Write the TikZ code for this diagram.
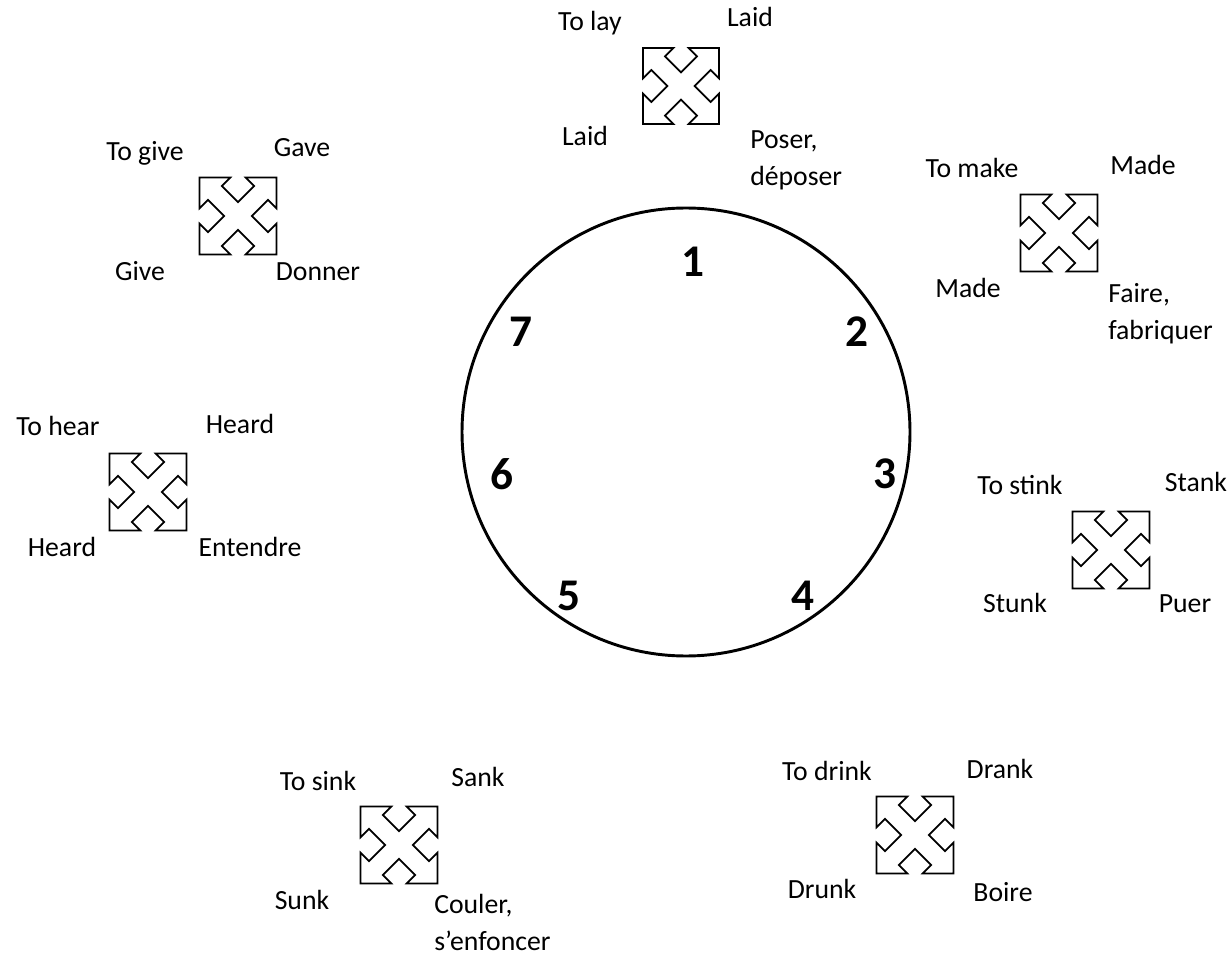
\documentclass[tikz,border=0pt]{standalone}
\usepackage{fontspec}
\setmainfont{Carlito}
\newcommand{\verbfont}{\fontsize{20.8}{27.75}\selectfont}
\newcommand{\hourfont}{\fontsize{34}{40}\selectfont\bfseries}
\tikzset{
  verb/.style={font=\verbfont, inner sep=0pt, anchor=base},
  gloss/.style={font=\verbfont, inner sep=0pt, anchor=north west, align=left},
  hour/.style={font=\hourfont, inner sep=0pt},
  clockface/.style={line width=2.2pt},
  arrowicon/.style={line width=1.3pt, line join=miter},
  crossarrows/.pic={
    \draw[arrowicon] (-.5,.5) -- (-.1,.5) -- (-.21,.39) -- (0,.18) -- (.21,.39) -- (.1,.5)
      -- (.5,.5) -- (.5,.1) -- (.39,.21) -- (.18,0) -- (.39,-.21) -- (.5,-.1)
      -- (.5,-.5) -- (.1,-.5) -- (.21,-.39) -- (0,-.18) -- (-.21,-.39) -- (-.1,-.5)
      -- (-.5,-.5) -- (-.5,-.1) -- (-.39,-.21) -- (-.18,0) -- (-.39,.21) -- (-.5,.1) -- cycle;
  }
}
\begin{document}
\begin{tikzpicture}[x=0.75pt,y=-0.75pt]
\useasboundingbox (0,0) rectangle (1231,969);
%\draw[help lines] (0,0) grid[step=100] (1231,969);
% clock
\coordinate (clock) at (686,432);
\draw[clockface] (clock) circle[radius=224];
\node[hour] (h1) at (693,262) {1};
\node[hour] (h2) at (857,332) {2};
\node[hour] (h3) at (885,474) {3};
\node[hour] (h4) at (803,596) {4};
\node[hour] (h5) at (569,596) {5};
\node[hour] (h6) at (502,474) {6};
\node[hour] (h7) at (521,332) {7};
% 1 to lay
\coordinate (lay) at (681,86);
\pic[scale=76] at (lay) {crossarrows};
\node[verb] (lay-inf) at (590,31) {To lay};
\node[verb] (lay-pret) at (750,27) {Laid};
\node[verb] (lay-pp) at (585,146) {Laid};
\node[gloss] (lay-fr) at (750,130) {Poser,\\déposer};
% 2 to make
\coordinate (make) at (1059,233);
\pic[scale=77] at (make) {crossarrows};
\node[verb] (make-inf) at (972,178) {To make};
\node[verb] (make-pret) at (1143,175) {Made};
\node[verb] (make-pp) at (968,298) {Made};
\node[gloss] (make-fr) at (1108,283) {Faire,\\fabriquer};
% 3 to stink
\coordinate (stink) at (1111,550);
\pic[scale=77] at (stink) {crossarrows};
\node[verb] (stink-inf) at (1020,494) {To stink};
\node[verb] (stink-pret) at (1196,492) {Stank};
\node[verb] (stink-pp) at (1015,612) {Stunk};
\node[verb] (stink-fr) at (1185,612) {Puer};
% 4 to drink
\coordinate (drink) at (915,835);
\pic[scale=77] at (drink) {crossarrows};
\node[verb] (drink-inf) at (827,780) {To drink};
\node[verb] (drink-pret) at (1000,778) {Drank};
\node[verb] (drink-pp) at (822,898) {Drunk};
\node[verb] (drink-fr) at (1003,901) {Boire};
% 5 to sink
\coordinate (sink) at (399,845);
\pic[scale=77] at (sink) {crossarrows};
\node[verb] (sink-inf) at (318,790) {To sink};
\node[verb] (sink-pret) at (478,786) {Sank};
\node[verb] (sink-pp) at (302,909) {Sunk};
\node[gloss] (sink-fr) at (434,894) {Couler,\\s’enfoncer};
% 6 to hear
\coordinate (hear) at (148,492);
\pic[scale=77] at (hear) {crossarrows};
\node[verb] (hear-inf) at (58,436) {To hear};
\node[verb] (hear-pret) at (240,434) {Heard};
\node[verb] (hear-pp) at (62,556) {Heard};
\node[verb] (hear-fr) at (250,556) {Entendre};
% 7 to give
\coordinate (give) at (238,216);
\pic[scale=77] at (give) {crossarrows};
\node[verb] (give-inf) at (145,161) {To give};
\node[verb] (give-pret) at (302,157) {Gave};
\node[verb] (give-pp) at (140,281) {Give};
\node[verb] (give-fr) at (318,281) {Donner};
\end{tikzpicture}
\end{document}
